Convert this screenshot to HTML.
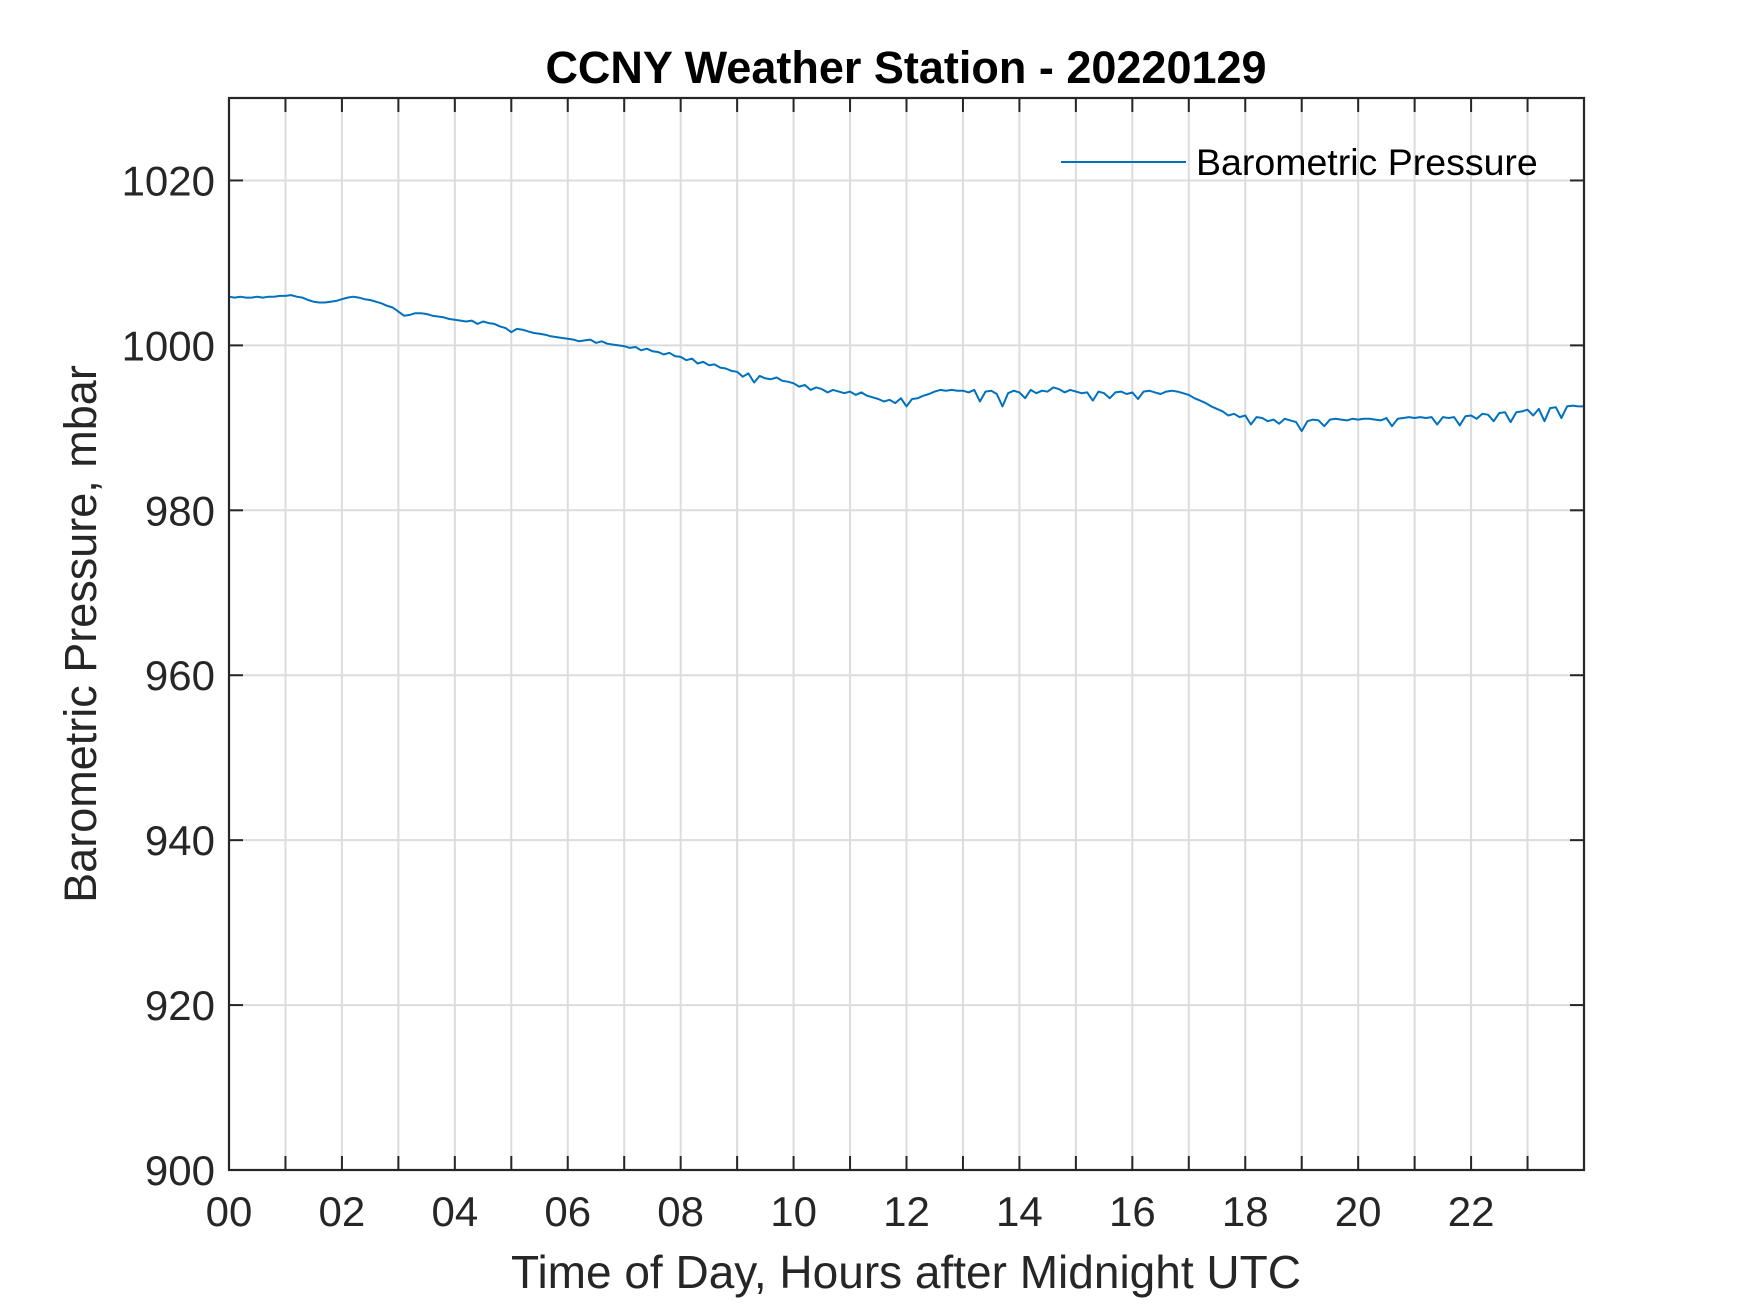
<!DOCTYPE html>
<html><head><meta charset="utf-8"><style>
html,body{margin:0;padding:0;background:#fff;}
svg{display:block;font-family:"Liberation Sans",Arial,sans-serif;}
</style></head><body>
<svg id="chart" width="1750" height="1313" viewBox="0 0 1750 1313" xmlns="http://www.w3.org/2000/svg">
<rect width="1750" height="1313" fill="#fff"/>
<g id="grid"></g>
<g id="ticks"></g>
<path id="series" fill="none" stroke="#0072BD" stroke-width="2" stroke-linejoin="round"/>
<rect x="229" y="98" width="1355" height="1072" fill="none" stroke="#262626" stroke-width="2.2"/>
<g id="labels" font-size="42" fill="#262626"></g>
<text x="906" y="83" text-anchor="middle" font-size="45" font-weight="bold" fill="#000">CCNY Weather Station - 20220129</text>
<text x="906" y="1288" text-anchor="middle" font-size="46" fill="#262626">Time of Day, Hours after Midnight UTC</text>
<text transform="translate(96,634) rotate(-90)" text-anchor="middle" font-size="45" fill="#262626">Barometric Pressure, mbar</text>
<g>
<line x1="1061" y1="162" x2="1186" y2="162" stroke="#0072BD" stroke-width="2"/>
<text x="1196" y="175" font-size="37.5" fill="#000">Barometric Pressure</text>
</g>
</svg>
<script>
const xTickValues=[0,2,4,6,8,10,12,14,16,18,20,22];
const xTickLabels=["00","02","04","06","08","10","12","14","16","18","20","22"];
const yTickValues=[900,920,940,960,980,1000,1020];
const yTickLabels=["900","920","940","960","980","1000","1020"];
const sampleStepHours=0.1;
const pressure=[
1005.9,1005.8,1005.9,1005.8,1005.8,1005.9,1005.8,1005.9,1005.9,1006.0,
1006.0,1006.1,1005.9,1005.8,1005.5,1005.3,1005.2,1005.2,1005.3,1005.4,
1005.6,1005.8,1005.9,1005.8,1005.6,1005.5,1005.3,1005.1,1004.8,1004.6,
1004.1,1003.6,1003.7,1003.9,1003.9,1003.8,1003.6,1003.5,1003.4,1003.2,
1003.1,1003.0,1002.9,1003.0,1002.6,1002.9,1002.7,1002.6,1002.3,1002.1,
1001.6,1002.0,1001.9,1001.7,1001.5,1001.4,1001.3,1001.1,1001.0,1000.9,
1000.8,1000.7,1000.5,1000.6,1000.7,1000.3,1000.5,1000.2,1000.1,1000.0,
999.9,999.7,999.8,999.4,999.6,999.3,999.2,998.9,999.1,998.7,
998.6,998.2,998.4,997.8,998.0,997.6,997.7,997.3,997.2,996.9,
996.8,996.2,996.6,995.5,996.3,996.0,995.9,996.1,995.7,995.6,
995.4,995.0,995.2,994.6,994.9,994.7,994.3,994.6,994.4,994.2,
994.4,994.0,994.3,993.9,993.7,993.5,993.2,993.4,993.0,993.6,
992.6,993.5,993.6,993.9,994.1,994.4,994.6,994.5,994.6,994.5,
994.5,994.3,994.6,993.2,994.4,994.5,994.1,992.6,994.2,994.5,
994.3,993.6,994.6,994.2,994.5,994.4,994.9,994.7,994.3,994.6,
994.4,994.2,994.3,993.3,994.4,994.2,993.6,994.3,994.4,994.1,
994.3,993.5,994.4,994.5,994.3,994.1,994.4,994.5,994.4,994.2,
994.0,993.6,993.3,993.0,992.6,992.3,992.0,991.5,991.7,991.3,
991.5,990.4,991.3,991.2,990.8,991.0,990.5,991.1,990.9,990.7,
989.6,990.8,991.0,990.9,990.2,991.0,991.1,991.0,990.9,991.1,
991.0,991.1,991.1,991.0,990.9,991.2,990.2,991.1,991.2,991.3,
991.2,991.3,991.2,991.3,990.4,991.3,991.2,991.3,990.3,991.4,
991.5,991.1,991.7,991.6,990.8,991.8,991.9,990.7,991.9,992.0,
992.2,991.5,992.3,990.8,992.4,992.5,991.2,992.6,992.7,992.6,
992.6];
const X0=229,X1=1584,Y0=1170,Y1=98,XMIN=0,XMAX=24,YMIN=900,YMAX=1030;
function xs(v){return X0+(v-XMIN)/(XMAX-XMIN)*(X1-X0);}
function ys(v){return Y0-(v-YMIN)/(YMAX-YMIN)*(Y0-Y1);}
const NS="http://www.w3.org/2000/svg";
const grid=document.getElementById('grid'),ticks=document.getElementById('ticks'),labels=document.getElementById('labels');
function mk(tag,attrs,parent){const e=document.createElementNS(NS,tag);for(const k in attrs)e.setAttribute(k,attrs[k]);parent.appendChild(e);return e;}
for(let h=1;h<24;h++){
  const x=xs(h);
  const g=mk('line',{x1:x,y1:Y1,x2:x,y2:Y0,stroke:'#dcdcdc','stroke-width':2},grid);
  
  
  const t1=mk('line',{x1:x,y1:Y0,x2:x,y2:Y0-14,stroke:'#262626','stroke-width':2},ticks);
  
  
  const t2=mk('line',{x1:x,y1:Y1,x2:x,y2:Y1+14,stroke:'#262626','stroke-width':2},ticks);
  
  
}
yTickValues.forEach((v,i)=>{
  const y=ys(v);
  if(v>YMIN){
    const g=mk('line',{x1:X0,y1:y,x2:X1,y2:y,stroke:'#dcdcdc','stroke-width':2},grid);
    
    
  }
  const t1=mk('line',{x1:X0,y1:y,x2:X0+14,y2:y,stroke:'#262626','stroke-width':2},ticks);
  
  
  const t2=mk('line',{x1:X1,y1:y,x2:X1-14,y2:y,stroke:'#262626','stroke-width':2},ticks);
  
  
  const l=mk('text',{x:X0-14,y:y+15,'text-anchor':'end'},labels);
  l.textContent=yTickLabels[i];
  
  
});
xTickValues.forEach((v,i)=>{
  const l=mk('text',{x:xs(v),y:Y0+56,'text-anchor':'middle'},labels);
  l.textContent=xTickLabels[i];
  
  
});
let d='';
pressure.forEach((p,i)=>{d+=(i?'L':'M')+xs(i*sampleStepHours).toFixed(1)+','+ys(p).toFixed(1);});
document.getElementById('series').setAttribute('d',d);
</script>
</body></html>
